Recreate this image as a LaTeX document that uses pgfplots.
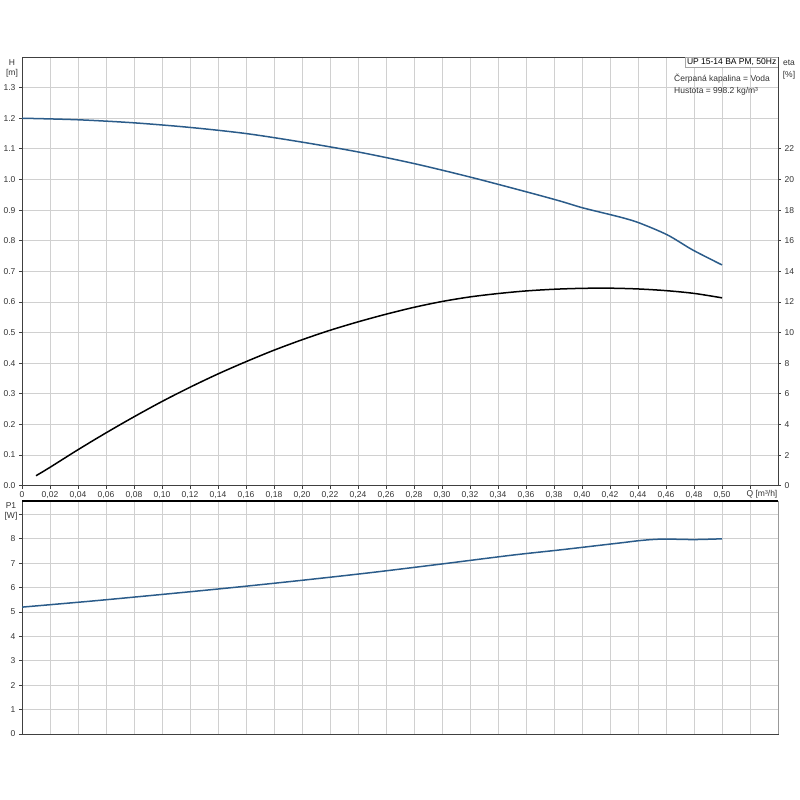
\documentclass[border=0pt]{standalone}
\usepackage{pgfplots}
\pgfplotsset{compat=1.18}
\usepackage{fontspec}
\setmainfont{Liberation Sans}
\definecolor{curveblue}{HTML}{2B5C8A}
\definecolor{gridgray}{HTML}{D0D0D0}
\definecolor{spine}{HTML}{404040}
\newcommand{\lblfont}{\fontsize{8.5}{10}\selectfont}
\pgfplotsset{
  pumpaxis/.style={
    scale only axis, anchor=south west,
    xmin=0, xmax=0.54,
    xtick={0,0.02,0.04,0.06,0.08,0.10,0.12,0.14,0.16,0.18,0.20,0.22,0.24,0.26,0.28,0.30,0.32,0.34,0.36,0.38,0.40,0.42,0.44,0.46,0.48,0.50,0.52},
    grid=major, major grid style={gridgray, line width=0.8pt},
    axis line style={spine, line width=0.9pt},
    tick align=outside, major tick length=3pt,
    tick style={spine, line width=0.8pt},
    xtick pos=bottom, ytick pos=left,
    tick label style={font=\lblfont, text=black!80},
    /pgf/number format/assume math mode=true,
  }
}
\begin{document}
\begin{tikzpicture}[x=1pt,y=1pt]
\path[use as bounding box] (0,0) rectangle (800,800);
% upper: head and efficiency
\begin{axis}[pumpaxis,
  at={(22pt,314.3pt)}, width=756pt, height=428.7pt,
  ymin=0, ymax=1.4,
  ytick={0,0.1,0.2,0.3,0.4,0.5,0.6,0.7,0.8,0.9,1.0,1.1,1.2,1.3},
  yticklabels={0.0,0.1,0.2,0.3,0.4,0.5,0.6,0.7,0.8,0.9,1.0,1.1,1.2,1.3},
  xticklabels={0,{0,02},{0,04},{0,06},{0,08},{0,10},{0,12},{0,14},{0,16},{0,18},{0,20},{0,22},{0,24},{0,26},{0,28},{0,30},{0,32},{0,34},{0,36},{0,38},{0,40},{0,42},{0,44},{0,46},{0,48},{0,50},{}},
  xticklabel style={yshift=1pt},
]
\addplot[curveblue, line width=1.5pt, smooth] coordinates {
  (0,1.200) (0.04,1.195) (0.08,1.185) (0.12,1.170) (0.16,1.150) (0.20,1.122)
  (0.24,1.090) (0.28,1.052) (0.32,1.008) (0.36,0.960) (0.384,0.930) (0.40,0.908)
  (0.415,0.891) (0.429,0.875) (0.441,0.858) (0.461,0.819) (0.479,0.770) (0.50,0.721)
};
\node[anchor=north east, draw=gray!70, fill=white, inner sep=1.5pt,
  font=\lblfont] at (rel axis cs:1,1) {UP 15-14 BA PM, 50Hz};
\end{axis}
\begin{axis}[
  scale only axis, anchor=south west,
  at={(22pt,314.3pt)}, width=756pt, height=428.7pt,
  xmin=0, xmax=0.54, ymin=0, ymax=28,
  axis x line=none, axis y line*=right,
  axis line style={spine, line width=0.9pt},
  ytick={0,2,4,6,8,10,12,14,16,18,20,22},
  tick align=outside, major tick length=3pt,
  tick style={spine, line width=0.8pt},
  tick label style={font=\lblfont, text=black!80},
  /pgf/number format/assume math mode=true,
]
\addplot[black, line width=1.5pt, smooth] coordinates {
  (0.01,0.65) (0.02,1.2) (0.04,2.35) (0.06,3.45) (0.08,4.5) (0.10,5.5)
  (0.12,6.43) (0.14,7.3) (0.16,8.1) (0.18,8.85) (0.20,9.53) (0.22,10.15)
  (0.24,10.7) (0.26,11.2) (0.28,11.65) (0.30,12.03) (0.32,12.33) (0.34,12.55)
  (0.36,12.72) (0.38,12.83) (0.40,12.89) (0.42,12.9) (0.44,12.85) (0.46,12.74)
  (0.48,12.56) (0.50,12.27)
};
\end{axis}
% lower: power
\begin{axis}[pumpaxis,
  at={(22pt,66pt)}, width=756pt, height=233pt,
  ymin=0, ymax=9.55,
  ytick={0,1,2,3,4,5,6,7,8,9},
  yticklabels={0,1,2,3,4,5,6,7,8,{}},
  xticklabels={},
  xtick style={draw=none},
]
\addplot[curveblue, line width=1.5pt, smooth] coordinates {
  (0,5.2) (0.05,5.45) (0.10,5.72) (0.15,6.0) (0.20,6.3) (0.25,6.62)
  (0.30,6.97) (0.35,7.33) (0.385,7.55) (0.415,7.75) (0.43,7.85) (0.44,7.92)
  (0.45,7.97) (0.46,7.99) (0.48,7.97) (0.50,8.0)
};
\end{axis}
\draw[black, line width=1.6pt] (22,299) -- (778,299);
\draw[gray!80, line width=0.9pt] (778,66) -- (778,298.5);
% axis captions
\begin{scope}[every node/.style={font=\lblfont, text=black!80, inner sep=0pt}]
\node at (12,737) {H};
\node at (12,727) {[m]};
\node at (789,737) {eta};
\node at (789,725) {[\%]};
\node at (11,294) {P1};
\node at (11,284) {[W]};
\node at (762,306) {Q [m³/h]};
\node[anchor=west] at (674,721) {Čerpaná kapalina = Voda};
\node[anchor=west] at (674,709) {Hustota = 998.2 kg/m³};
\end{scope}
\end{tikzpicture}
\end{document}
